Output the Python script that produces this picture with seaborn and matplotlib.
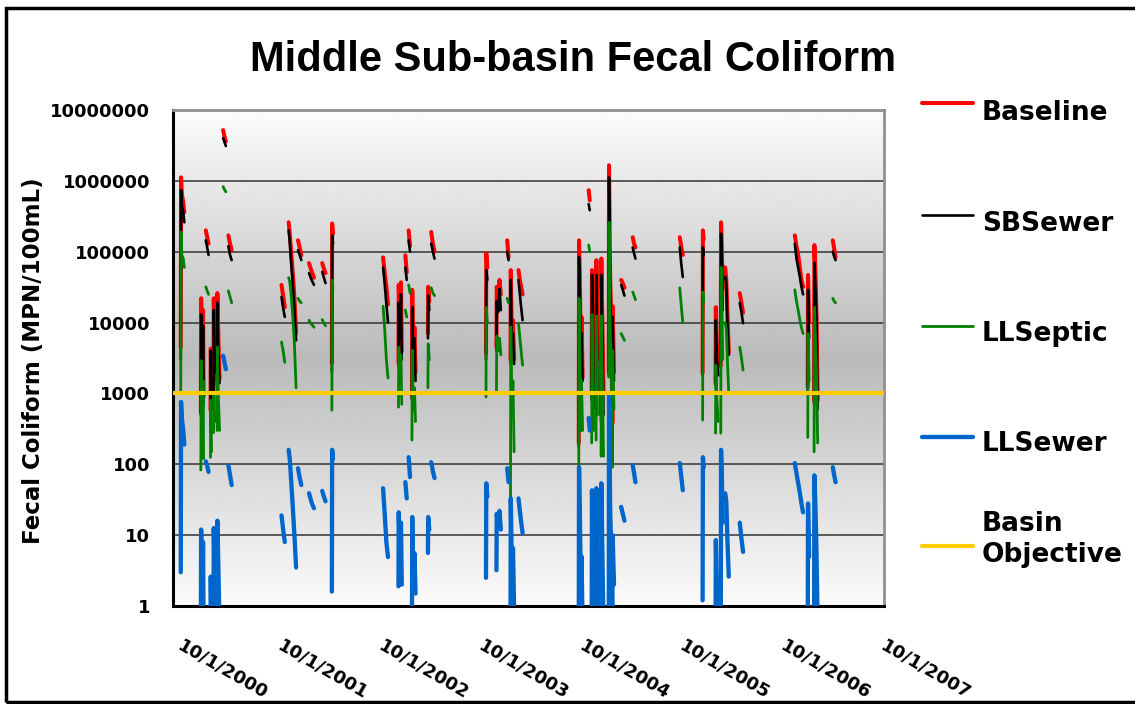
import numpy as np
import pandas as pd
import matplotlib
matplotlib.use("Agg")
import matplotlib.pyplot as plt
import seaborn as sns
from matplotlib.patches import Rectangle
from matplotlib.lines import Line2D
from matplotlib.transforms import ScaledTranslation
import matplotlib.ticker as mticker

# ---------------- data ----------------
title = "Middle Sub-basin Fecal Coliform"
y_label = "Fecal Coliform (MPN/100mL)"
series_names = ["Baseline", "SBSewer", "LLSeptic", "LLSewer", "Basin Objective"]
y_ticks = [1, 10, 100, 1000, 10000, 100000, 1000000, 10000000]
x_tick_labels = ["10/1/2000", "10/1/2001", "10/1/2002", "10/1/2003",
                 "10/1/2004", "10/1/2005", "10/1/2006", "10/1/2007"]
basin_objective = 1000

dates = [
    "2000-10-31", "2000-11-01", "2000-11-04", "2000-11-09", "2000-11-13",
    "2001-01-12", "2001-01-13", "2001-01-15", "2001-01-18", "2001-01-20", "2001-01-22",
    "2001-01-30", "2001-02-04", "2001-02-09",
    "2001-02-16", "2001-02-17", "2001-02-20",
    "2001-02-27", "2001-02-28", "2001-03-04",
    "2001-03-12", "2001-03-13", "2001-03-17", "2001-03-21",
    "2001-04-03", "2001-04-08", "2001-04-13",
    "2001-04-22", "2001-04-28", "2001-05-04",
    "2001-11-01", "2001-11-07", "2001-11-13",
    "2001-11-27", "2001-12-01", "2001-12-06", "2001-12-12", "2001-12-18", "2001-12-24",
    "2001-12-31", "2002-01-06", "2002-01-12",
    "2002-02-09", "2002-02-15", "2002-02-21", "2002-02-27",
    "2002-03-29", "2002-04-04", "2002-04-10",
    "2002-05-03", "2002-05-04", "2002-05-07",
    "2002-11-05", "2002-11-11", "2002-11-17", "2002-11-23",
    "2002-12-31", "2003-01-01", "2003-01-05", "2003-01-09", "2003-01-12",
    "2003-01-25", "2003-01-30",
    "2003-02-06", "2003-02-11",
    "2003-02-18", "2003-02-19", "2003-02-23", "2003-02-27", "2003-03-03",
    "2003-04-17", "2003-04-18", "2003-04-22",
    "2003-04-29", "2003-05-05", "2003-05-11",
    "2003-11-14", "2003-11-15", "2003-11-19",
    "2003-12-22", "2003-12-23", "2003-12-28", "2004-01-02", "2004-01-07",
    "2004-01-30", "2004-02-04",
    "2004-02-11", "2004-02-12", "2004-02-16", "2004-02-20", "2004-02-24",
    "2004-03-11", "2004-03-16", "2004-03-21", "2004-03-26",
    "2004-10-16", "2004-10-17", "2004-10-20", "2004-10-24", "2004-10-26", "2004-10-30",
    "2004-11-21", "2004-11-25",
    "2004-12-02", "2004-12-03", "2004-12-06", "2004-12-09",
    "2004-12-18", "2004-12-19", "2004-12-23",
    "2005-01-05", "2005-01-06", "2005-01-10", "2005-01-14",
    "2005-02-02", "2005-02-03", "2005-02-07", "2005-02-11", "2005-02-15", "2005-02-16", "2005-02-21",
    "2005-03-19", "2005-03-25", "2005-03-31",
    "2005-04-30", "2005-05-05", "2005-05-10",
    "2005-10-18", "2005-10-23", "2005-10-29",
    "2006-01-09", "2006-01-10", "2006-01-13",
    "2006-02-25", "2006-02-26", "2006-03-02", "2006-03-07",
    "2006-03-16", "2006-03-17", "2006-03-20", "2006-03-23",
    "2006-04-01", "2006-04-05", "2006-04-09", "2006-04-14",
    "2006-05-24", "2006-05-30", "2006-06-05",
    "2006-12-10", "2006-12-16", "2006-12-22", "2006-12-28", "2007-01-03", "2007-01-09",
    "2007-01-26", "2007-01-27", "2007-01-31",
    "2007-02-18", "2007-02-19", "2007-02-23", "2007-02-27", "2007-03-03",
    "2007-04-27", "2007-05-02", "2007-05-07",
]

baseline = [
    4500, 1.12e6, 6.5e5, 5.0e5, 3.6e5,
    540, 2.2e4, 1.2e4, 2000, 1.5e4, 900,
    2.0e5, 1.6e5, 1.3e5,
    580, 4300, 900,
    700, 2.2e4, 3000,
    1500, 2.6e4, 5000, 1600,
    5.2e6, 4.2e6, 3.6e6,
    1.7e5, 1.3e5, 1.05e5,
    3.4e4, 2.4e4, 1.65e4,
    2.6e5, 1.8e5, 1.0e5, 5.0e4, 2.2e4, 7000,
    1.45e5, 1.15e5, 8.9e4,
    6.9e4, 5.8e4, 5.0e4, 4.3e4,
    6.9e4, 5.8e4, 5.0e4,
    2700, 2.5e5, 1.8e5,
    8.3e4, 5.0e4, 3.2e4, 1.8e4,
    2700, 3.4e4, 8000, 3.7e4, 4000,
    8.9e4, 5.1e4,
    2.0e5, 1.2e5,
    900, 2.9e4, 3000, 8600, 2000,
    7000, 3.2e4, 2.0e4,
    1.9e5, 1.3e5, 1.0e5,
    3700, 9.5e4, 6.0e4,
    4500, 3.2e4, 2.2e4, 4.0e4, 2.5e4,
    1.45e5, 8.4e4,
    3000, 5.5e4, 5000, 1.08e4, 3000,
    5.5e4, 4.0e4, 3.2e4, 2.5e4,
    200, 1.45e5, 4.0e4, 1800, 1.2e4, 1700,
    7.4e5, 5.3e5,
    1000, 5.5e4, 3.4e4, 1500,
    900, 7.6e4, 3000,
    500, 8.0e4, 1.0e4, 1000,
    2000, 1.66e6, 4.3e4, 1.2e4, 380, 1.7e4, 2000,
    4.0e4, 3.6e4, 3.1e4,
    1.6e5, 1.3e5, 1.15e5,
    1.6e5, 1.2e5, 9.0e4,
    1950, 2.0e5, 1.5e5,
    1400, 1.65e4, 4000, 2500,
    2500, 2.6e5, 1.0e5, 3.0e4,
    6.0e4, 4.0e4, 1.4e4, 3700,
    2.6e4, 1.9e4, 1.37e4,
    1.7e5, 1.2e5, 9.0e4, 6.0e4, 4.0e4, 3.2e4,
    1250, 4.7e4, 1.0e4,
    800, 1.24e5, 5.0e4, 1.2e4, 800,
    1.45e5, 1.1e5, 8.3e4,
]

sbsewer = [
    3000, 7.4e5, 4.5e5, 3.6e5, 2.6e5,
    500, 1.3e4, 8000, 1500, 9000, 700,
    1.45e5, 1.15e5, 9.0e4,
    500, 4000, 700,
    600, 1.5e4, 2000,
    1300, 1.9e4, 3000, 1400,
    4.0e6, 3.5e6, 3.1e6,
    1.2e5, 9.0e4, 7.6e4,
    2.3e4, 1.6e4, 1.2e4,
    2.0e5, 1.4e5, 7.0e4, 3.5e4, 1.6e4, 5600,
    1.05e5, 9.0e4, 7.6e4,
    5.0e4, 4.3e4, 3.8e4, 3.4e4,
    5.2e4, 4.3e4, 3.6e4,
    2000, 1.7e5, 1.3e5,
    6.0e4, 3.5e4, 1.8e4, 1.0e4,
    2500, 1.9e4, 6000, 2.5e4, 3000,
    6.0e4, 4.0e4,
    1.45e5, 1.0e5,
    800, 1.65e4, 2500, 6000, 1500,
    6000, 2.4e4, 1.5e4,
    1.3e5, 1.0e5, 8.0e4,
    3000, 5.5e4, 4.0e4,
    4000, 2.0e4, 1.4e4, 3.0e4, 1.5e4,
    1.0e5, 7.6e4,
    2700, 4.0e4, 4000, 7000, 2600,
    4.0e4, 2.5e4, 1.6e4, 1.08e4,
    180, 8.4e4, 2.5e4, 1500, 7000, 1500,
    4.7e5, 3.85e5,
    800, 4.7e4, 2.0e4, 600,
    800, 4.7e4, 1100,
    400, 4.7e4, 5000, 500,
    1800, 1.12e6, 2.8e4, 7000, 300, 1.2e4, 1500,
    3.4e4, 2.9e4, 2.4e4,
    1.15e5, 9.5e4, 8.0e4,
    1.15e5, 7.0e4, 4.4e4,
    1800, 1.15e5, 9.0e4,
    1300, 1.08e4, 3000, 1800,
    2350, 1.8e5, 7.0e4, 1.5e4,
    4.4e4, 3.6e4, 1.0e4, 3500,
    1.9e4, 1.4e4, 9800,
    1.3e5, 8.0e4, 6.0e4, 4.5e4, 3.2e4, 2.5e4,
    1100, 2.9e4, 6000,
    700, 7.0e4, 3.0e4, 1.0e4, 600,
    1.0e5, 8.5e4, 7.6e4,
]

llseptic = [
    1000, 1.9e5, 9.0e4, 8.0e4, 6.0e4,
    83, 2900, 900, 200, 1500, 120,
    3.2e4, 2.8e4, 2.5e4,
    125, 800, 150,
    280, 1000, 400,
    300, 4500, 800, 300,
    8.3e5, 7.5e5, 7.0e5,
    2.8e4, 2.3e4, 1.9e4,
    5300, 4000, 2750,
    4.3e4, 3.8e4, 2.5e4, 1.2e4, 5000, 1200,
    2.2e4, 2.0e4, 1.9e4,
    1.08e4, 9800, 9200, 8600,
    1.1e4, 9800, 9000,
    580, 4.0e4, 3.0e4,
    1.7e4, 8000, 3000, 1650,
    640, 4500, 1500, 3500, 700,
    1.5e4, 1.2e4,
    3.4e4, 2.6e4,
    220, 4100, 600, 1200, 400,
    1200, 5000, 3000,
    3.1e4, 2.6e4, 2.4e4,
    890, 1.65e4, 1.0e4,
    1100, 6500, 4000, 6000, 3500,
    2.2e4, 1.9e4,
    30, 8700, 700, 1500, 150,
    9800, 6000, 3800, 2500,
    48, 2.2e4, 4000, 300, 1500, 300,
    1.24e5, 1.0e5,
    200, 1.3e4, 4000, 300,
    220, 1.25e4, 500,
    130, 1.25e4, 1500, 130,
    1700, 2.6e5, 8700, 2500, 91, 4000, 600,
    7000, 6300, 5600,
    2.7e4, 2.4e4, 2.1e4,
    3.1e4, 1.8e4, 1.0e4,
    420, 2.7e4, 2.0e4,
    275, 2500, 800, 400,
    275, 6.0e4, 2.0e4, 3000,
    1.0e4, 8000, 3000, 1000,
    4500, 3200, 2130,
    2.9e4, 2.0e4, 1.5e4, 1.1e4, 8500, 7000,
    240, 7000, 1500,
    150, 1.65e4, 6000, 2000, 200,
    2.2e4, 2.0e4, 1.9e4,
]

llsewer = [
    3, 760, 450, 300, 190,
    0.5, 12, 5, 1.5, 8, 0.5,
    110, 95, 78,
    0.5, 2.6, 0.5,
    0.5, 12.6, 1.5,
    0.5, 16, 3, 0.5,
    3400, 2700, 2200,
    97, 70, 51,
    19, 12, 8,
    160, 120, 60, 25, 10, 3.5,
    88, 65, 51,
    39, 32, 27, 24,
    42, 35, 30,
    1.6, 160, 120,
    46, 20, 8, 4.9,
    1.9, 21, 5, 15, 2,
    56, 33,
    126, 66,
    0.5, 18, 2, 5.6, 1.5,
    5.6, 18, 12,
    107, 80, 64,
    2.5, 54, 35,
    3.2, 20, 14, 22, 12,
    88, 56,
    0.5, 33, 3, 6.6, 1,
    33, 22, 15, 10.7,
    0.5, 91, 20, 1.5, 5, 0.5,
    450, 300,
    0.5, 43, 10, 0.5,
    0.5, 46, 1,
    0.5, 54, 5, 0.5,
    0.5, 1000, 25, 6, 0.5, 10, 2,
    25, 20, 16,
    97, 75, 56,
    104, 70, 43,
    1.2, 126, 90,
    0.5, 8.5, 2, 1,
    0.5, 160, 60, 15,
    39, 30, 9, 2.6,
    15, 9, 5.8,
    104, 75, 55, 40, 28, 21,
    0.5, 28, 5,
    0.5, 70, 25, 5, 0.5,
    91, 70, 56,
]

# ---------------- styles ----------------
colors = {"Baseline": "#FF0000", "SBSewer": "#000000", "LLSeptic": "#008000",
          "LLSewer": "#0066CC", "Basin Objective": "#FFCC00"}
widths = {"Baseline": 2.9, "SBSewer": 1.9, "LLSeptic": 2.0,
          "LLSewer": 3.1, "Basin Objective": 3.0}

# ---------------- long-form table ----------------
d = pd.to_datetime(pd.Series(dates))
segment = (d.diff().dt.days.fillna(999) > 6).cumsum()
frames = []
for name, vals in zip(series_names[:4], [baseline, sbsewer, llseptic, llsewer]):
    frames.append(pd.DataFrame({"date": d, "value": vals,
                                "segment": segment, "series": name}))
df = pd.concat(frames, ignore_index=True)

# ---------------- figure ----------------
sns.set_theme(style="white")
plt.rcParams["font.family"] = ["DejaVu Sans"]
plt.rcParams["text.color"] = "black"
plt.rcParams["axes.labelcolor"] = "black"
plt.rcParams["xtick.color"] = "black"
plt.rcParams["ytick.color"] = "black"

W, H = 1135, 704
fig = plt.figure(figsize=(W / 100, H / 100), dpi=100)
fig.patch.set_facecolor("white")

L, R, T, B = 172.5, 884, 110, 606
pos = [L / W, 1 - B / H, (R - L) / W, (B - T) / H]

# gradient plot-area background
bg = fig.add_axes(pos, zorder=0)
t = np.linspace(-1, 1, 500)
shade = 0.985 - 0.255 * (1 - np.abs(t))
bg.imshow(shade[:, None], cmap="gray", vmin=0, vmax=1, aspect="auto",
          extent=[0, 1, 0, 1], interpolation="bilinear")
bg.set_axis_off()

ax = fig.add_axes(pos, zorder=1)
ax.set_facecolor("none")
ax.set_yscale("log")

for name in series_names[:4]:
    sns.lineplot(data=df[df["series"] == name], x="date", y="value",
                 units="segment", estimator=None, sort=True,
                 color=colors[name], lw=widths[name], ax=ax, legend=False,
                 solid_capstyle="round", zorder=3)

ax.axhline(basin_objective, color=colors["Basin Objective"],
           lw=widths["Basin Objective"], zorder=6)

ax.set_ylim(1, 1e7)
ax.set_xlim(pd.Timestamp("2000-10-01"), pd.Timestamp("2007-10-30"))
ax.set_xlabel("")
ax.set_ylabel("")

ax.set_yticks(y_ticks)
ax.set_yticklabels([str(v) for v in y_ticks])
ax.yaxis.set_minor_locator(mticker.NullLocator())
ax.set_xticks(pd.to_datetime(x_tick_labels, format="%m/%d/%Y"))
ax.set_xticklabels(x_tick_labels, rotation=-30, ha="left", va="top",
                   rotation_mode="anchor")
ax.xaxis.set_minor_locator(mticker.NullLocator())

ax.tick_params(axis="y", direction="out", length=8, width=2, color="black",
               pad=8, labelsize=13, labelcolor="black")
ax.tick_params(axis="x", direction="out", length=8, width=2, color="black",
               pad=14, labelsize=13, labelcolor="black")
for lbl in ax.get_yticklabels() + ax.get_xticklabels():
    lbl.set_fontweight("bold")
for lbl in ax.get_xticklabels():
    lbl.set_transform(lbl.get_transform() + ScaledTranslation(0.11, 0, fig.dpi_scale_trans))

ax.yaxis.grid(True, color="#333333", lw=1.1, zorder=1)
ax.xaxis.grid(False)
ax.set_axisbelow(True)

for s in ["left", "bottom"]:
    ax.spines[s].set_color("black")
    ax.spines[s].set_linewidth(2.2)
for s in ["top", "right"]:
    ax.spines[s].set_color("#909090")
    ax.spines[s].set_linewidth(2)

# title and axis label
fig.text(0.505, 1 - 60 / H, title, ha="center", va="center", fontsize=30,
         fontweight="bold", family="Liberation Sans", color="black")
fig.text(34 / W, 1 - 361 / H, y_label, rotation=90, ha="center", va="center",
         fontsize=16.5, fontweight="bold", color="black")

# legend on the right
handle_y = [103, 215, 326, 437, 546]
text_base = [120, 231, 341, 451, 562]
for name, hy, ty in zip(series_names, handle_y, text_base):
    fig.add_artist(Line2D([922 / W, 973 / W], [1 - hy / H, 1 - hy / H],
                          transform=fig.transFigure, color=colors[name],
                          lw=widths[name], solid_capstyle="round"))
    label = "Basin\nObjective" if name == "Basin Objective" else name
    fig.text(982 / W, 1 - ty / H, label, ha="left", va="baseline",
             fontsize=19, fontweight="bold", linespacing=1.25, color="black")

# outer chart border
fig.add_artist(Rectangle((6 / W, 2 / H), 1.2, 694 / H, transform=fig.transFigure,
                         fill=False, edgecolor="black", lw=2.5, clip_on=False))

fig.savefig("out.png", dpi=100)
